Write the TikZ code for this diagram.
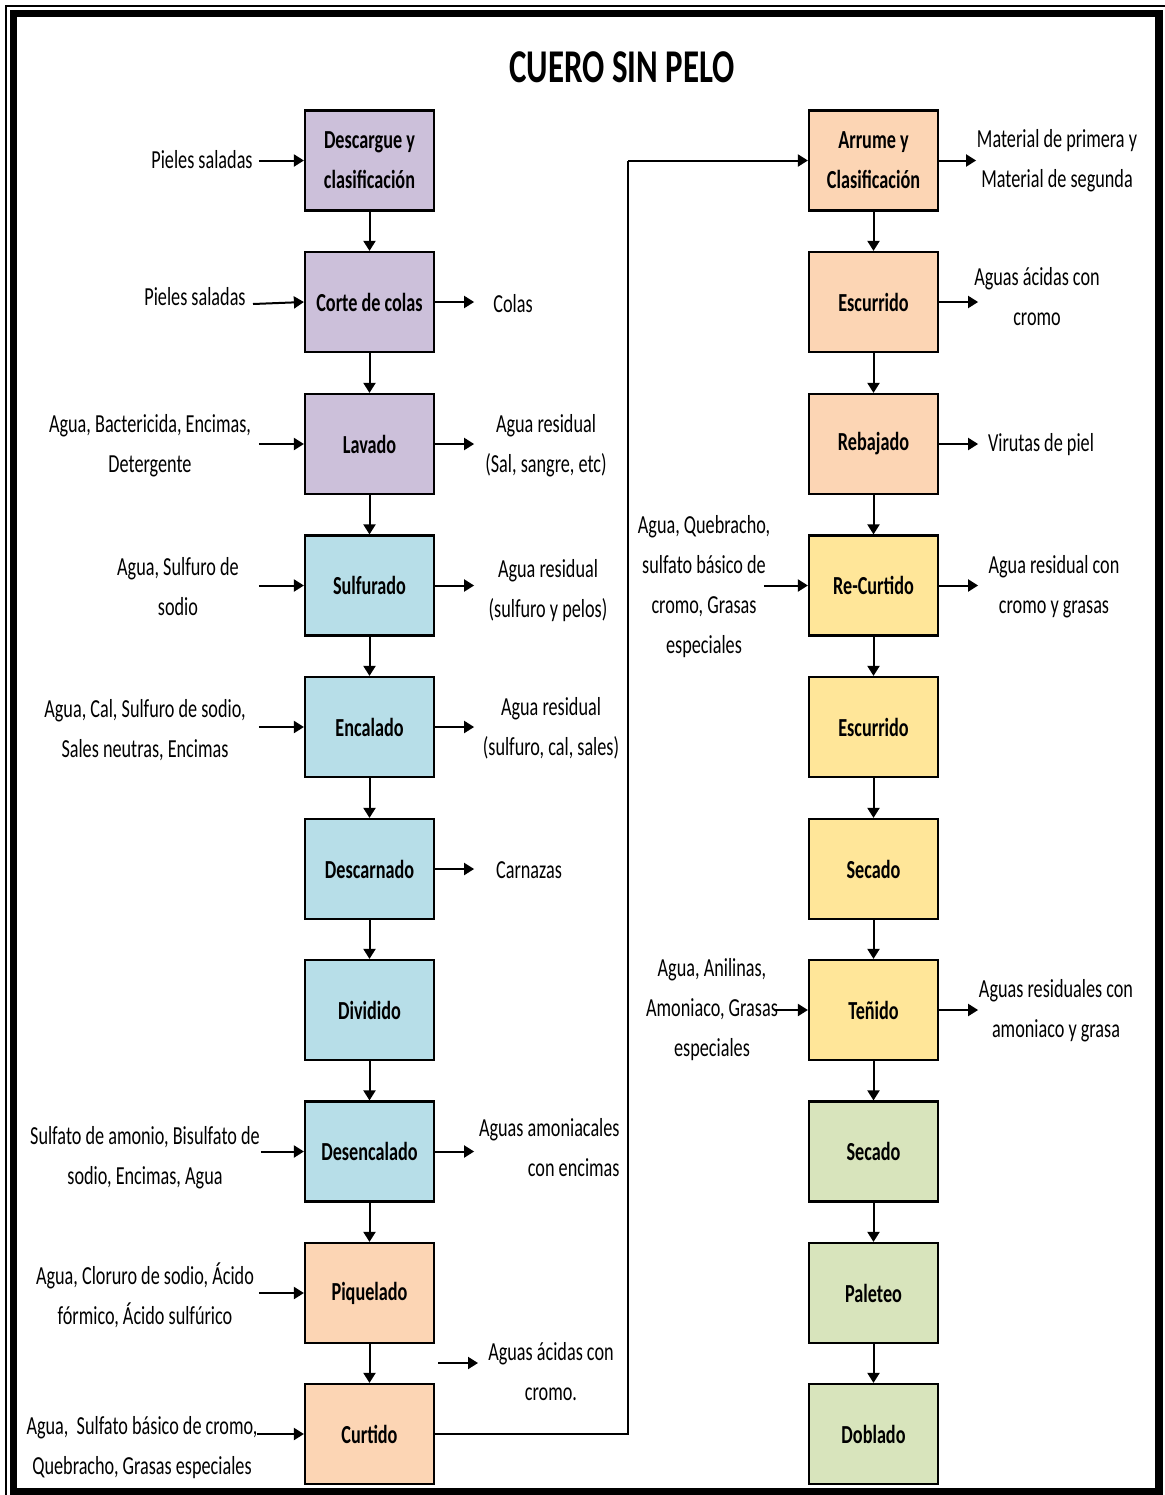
\documentclass[tikz,border=0pt]{standalone}
\usepackage{fontspec}
\setmainfont{Carlito}[FakeStretch=0.7]
\usetikzlibrary{arrows.meta,positioning}
\definecolor{cpurple}{HTML}{CCC0DA}
\definecolor{cblue}{HTML}{B7DEE8}
\definecolor{cpeach}{HTML}{FCD5B4}
\definecolor{cyellow}{HTML}{FFE699}
\definecolor{cgreen}{HTML}{D8E4BC}
\tikzset{
  stagebox/.style={draw, line width=1.1pt, minimum width=64.5pt, minimum height=50pt,
    inner sep=0pt, align=center, font=\fontsize{13}{20}\selectfont\bfseries},
  lbl/.style={inner sep=0pt, align=center, font=\fontsize{13}{20}\selectfont},
  arr/.style={line width=1pt, -{Triangle[length=5pt,width=6pt]}},
  link/.style={line width=1pt}
}
\begin{document}
\begin{tikzpicture}[x=0.5pt,y=-0.5pt]
\useasboundingbox (0,0) rectangle (1165,1495);
% frame
\draw[line width=0.6pt] (6,6) rectangle (1175,1505);
\draw[line width=3.6pt] (13.5,13.5) rectangle (1159,1491.5);
% title
\node[inner sep=0pt, font=\fontsize{23.5}{28}\selectfont\bfseries] (title) at (622,67) {CUERO SIN PELO};

% left column
\node[stagebox, fill=cpurple] (b1) at (369.5,160.5) {Descargue y\\clasificación};
\node[stagebox, fill=cpurple] (b2) at (369.5,302) {Corte de colas};
\node[stagebox, fill=cpurple] (b3) at (369.5,444) {Lavado};
\node[stagebox, fill=cblue] (b4) at (369.5,585.5) {Sulfurado};
\node[stagebox, fill=cblue] (b5) at (369.5,727) {Encalado};
\node[stagebox, fill=cblue] (b6) at (369.5,869) {Descarnado};
\node[stagebox, fill=cblue] (b7) at (369.5,1010) {Dividido};
\node[stagebox, fill=cblue] (b8) at (369.5,1151.5) {Desencalado};
\node[stagebox, fill=cpeach] (b9) at (369.5,1293) {Piquelado};
\node[stagebox, fill=cpeach] (b10) at (369.5,1434) {Curtido};

% right column
\node[stagebox, fill=cpeach] (r1) at (873.5,160.5) {Arrume y\\Clasificación};
\node[stagebox, fill=cpeach] (r2) at (873.5,302) {Escurrido};
\node[stagebox, fill=cpeach] (r3) at (873.5,444) {Rebajado};
\node[stagebox, fill=cyellow] (r4) at (873.5,585.5) {Re-Curtido};
\node[stagebox, fill=cyellow] (r5) at (873.5,727) {Escurrido};
\node[stagebox, fill=cyellow] (r6) at (873.5,869) {Secado};
\node[stagebox, fill=cyellow] (r7) at (873.5,1010) {Teñido};
\node[stagebox, fill=cgreen] (r8) at (873.5,1151.5) {Secado};
\node[stagebox, fill=cgreen] (r9) at (873.5,1293) {Paleteo};
\node[stagebox, fill=cgreen] (r10) at (873.5,1434) {Doblado};

% flow down each column
\foreach \a/\b in {b1/b2,b2/b3,b3/b4,b4/b5,b5/b6,b6/b7,b7/b8,b8/b9,b9/b10,
                   r1/r2,r2/r3,r3/r4,r4/r5,r5/r6,r6/r7,r7/r8,r8/r9,r9/r10}
  \draw[arr] (\a.south) -- (\b.north);

% Curtido feeds Arrume
\coordinate (bend) at (628,160.5);
\draw[link] (b10.east) -| (bend);
\draw[arr] (bend) -- (r1.west);

% inputs, left column
\node[lbl] (i1) at (202,160) {Pieles saladas};
\draw[arr] (b1.west) ++(-45,0) -- (b1.west);
\node[lbl] (i2) at (195,297) {Pieles saladas};
\coordinate (i2s) at (253,304);
\draw[arr] (i2s) -- (b2.west);
\node[lbl] (i3) at (150,446) {Agua, Bactericida, Encimas,\\Detergente};
\draw[arr] (b3.west) ++(-45,0) -- (b3.west);
\node[lbl] (i4) at (178,587) {Agua, Sulfuro de\\sodio};
\draw[arr] (b4.west) ++(-45,0) -- (b4.west);
\node[lbl] (i5) at (145,730) {Agua, Cal, Sulfuro de sodio,\\Sales neutras, Encimas};
\draw[arr] (b5.west) ++(-45,0) -- (b5.west);
\node[lbl] (i8) at (145,1158) {Sulfato de amonio, Bisulfato de\\sodio, Encimas, Agua};
\draw[arr] (b8.west) ++(-43,0) -- (b8.west);
\node[lbl] (i9) at (145,1295) {Agua, Cloruro de sodio, Ácido\\fórmico, Ácido sulfúrico};
\draw[arr] (b9.west) ++(-45,0) -- (b9.west);
\node[lbl] (i10) at (142,1448) {Agua,\ \ Sulfato básico de cromo,\\Quebracho, Grasas especiales};
\draw[arr] (b10.west) ++(-47,0) -- (b10.west);

% outputs, left column
\draw[arr] (b2.east) -- ++(39,0);
\node[lbl] (o2) at (513,304) {Colas};
\draw[arr] (b3.east) -- ++(39,0);
\node[lbl] (o3) at (546,446) {Agua residual\\(Sal, sangre, etc)};
\draw[arr] (b4.east) -- ++(39,0);
\node[lbl] (o4) at (548,591) {Agua residual\\(sulfuro y pelos)};
\draw[arr] (b5.east) -- ++(39,0);
\node[lbl] (o5) at (551,728) {Agua residual\\(sulfuro, cal, sales)};
\draw[arr] (b6.east) -- ++(39,0);
\node[lbl] (o6) at (529,870) {Carnazas};
\draw[arr] (b8.east) -- ++(39,0);
\node[lbl, align=right, anchor=east] (o8) at (620,1148) {Aguas amoniacales\\con encimas};
\coordinate (pq) at (438,1363);
\draw[arr] (pq) -- ++(40,0);
\node[lbl] (o9) at (551,1372) {Aguas ácidas con\\cromo.};

% inputs, right column
\node[lbl] (j4) at (704,587) {Agua, Quebracho,\\sulfato básico de\\cromo, Grasas\\especiales};
\draw[arr] (r4.west) ++(-44,0) -- (r4.west);
\node[lbl] (j7) at (712,1010) {Agua, Anilinas,\\Amoniaco, Grasas\\especiales};
\draw[arr] (r7.west) ++(-34,0) -- (r7.west);

% outputs, right column
\draw[arr] (r1.east) -- ++(37,0);
\node[lbl] (p1) at (1057,161) {Material de primera y\\Material de segunda};
\draw[arr] (r2.east) -- ++(39,0);
\node[lbl] (p2) at (1037,297) {Aguas ácidas con\\cromo};
\draw[arr] (r3.east) -- ++(39,0);
\node[lbl] (p3) at (1041,445) {Virutas de piel};
\draw[arr] (r4.east) -- ++(39,0);
\node[lbl] (p4) at (1054,587) {Agua residual con\\cromo y grasas};
\draw[arr] (r7.east) -- ++(39,0);
\node[lbl] (p7) at (1056,1011) {Aguas residuales con\\amoniaco y grasa};
\end{tikzpicture}
\end{document}
